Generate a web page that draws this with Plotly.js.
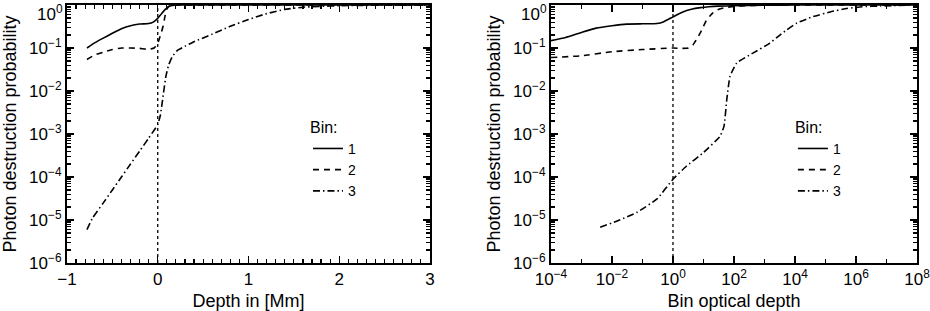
<!DOCTYPE html>
<html>
<head>
<meta charset="utf-8">
<script src="https://cdn.plot.ly/plotly-3.0.1.min.js"></script>
<style>
  body { margin: 0; background: white; }
  #plot { width: 930px; height: 311px; }
</style>
</head>
<body>
<div id="plot"></div>
<script>
// Bin labels and reference positions
const binNames = ['1', '2', '3'];
const surfaceDepth = 0;   // dotted line, left panel (Mm)
const unitTau = 1;        // dotted line, right panel

// Left panel: depth in Mm
const depth1 = [-0.78, -0.7, -0.6, -0.5, -0.4, -0.3, -0.2, -0.1, -0.05, 0, 0.04, 0.08, 0.12, 0.16, 0.22, 0.3, 0.5, 1, 2, 3];
const prob1  = [0.10, 0.13, 0.17, 0.22, 0.28, 0.33, 0.36, 0.37, 0.40, 0.49, 0.62, 0.78, 0.92, 0.97, 1.0, 1.0, 1.0, 1.0, 1.0, 1.0];

const depth2 = [-0.78, -0.7, -0.6, -0.5, -0.4, -0.3, -0.2, -0.1, -0.04, 0, 0.02, 0.04, 0.06, 0.08, 0.1, 0.13, 0.17, 0.25, 0.5, 1, 2, 3];
const prob2  = [0.054, 0.068, 0.08, 0.092, 0.1, 0.1, 0.098, 0.093, 0.1, 0.13, 0.17, 0.23, 0.33, 0.55, 0.8, 0.95, 0.99, 1, 1, 1, 1, 1];

const depth3 = [-0.78, -0.72, -0.6, -0.5, -0.4, -0.3, -0.2, -0.1, 0, 0.03, 0.06, 0.09, 0.12, 0.16, 0.22, 0.3, 0.4, 0.6, 0.8, 1.0, 1.2, 1.4, 1.6, 1.8, 2.0, 2.5, 3];
const prob3  = [6e-6, 1.1e-5, 2.5e-5, 5e-5, 1e-4, 2e-4, 4e-4, 8e-4, 1.66e-3, 2.8e-3, 7.9e-3, 0.022, 0.04, 0.063, 0.089, 0.11, 0.14, 0.21, 0.32, 0.46, 0.63, 0.79, 0.89, 0.93, 0.965, 0.99, 1.0];

// Right panel: bin optical depth
const tau1  = [1e-4, 3e-4, 1e-3, 3e-3, 1e-2, 3e-2, 0.1, 0.3, 0.5, 1, 2, 4, 8, 15, 30, 100, 1e3, 1e4, 1e6, 1e8];
const tprob1 = [0.148, 0.175, 0.23, 0.29, 0.33, 0.36, 0.365, 0.37, 0.41, 0.53, 0.68, 0.8, 0.87, 0.91, 0.94, 0.96, 0.99, 1, 1, 1];

const tau2  = [1e-4, 1e-3, 1e-2, 0.1, 1, 2, 3.2, 4.5, 6.3, 8, 10, 12.6, 16, 20, 32, 50, 100, 316, 1e3, 1e4, 1e6, 1e8];
const tprob2 = [0.06, 0.066, 0.082, 0.092, 0.1, 0.098, 0.1, 0.118, 0.17, 0.23, 0.32, 0.45, 0.55, 0.65, 0.8, 0.87, 0.93, 0.97, 0.99, 1, 1, 1];

const tau3  = [0.0041, 0.018, 0.065, 0.3, 1, 2.8, 10, 35, 47, 58, 74, 123, 417, 1500, 3200, 5200, 11500, 40000, 141000, 500000, 1.6e6, 6.3e6, 1e8];
const tprob3 = [6.8e-6, 1e-5, 1.5e-5, 3.1e-5, 8.9e-5, 1.8e-4, 3.7e-4, 8.9e-4, 1.5e-3, 6.3e-3, 0.022, 0.045, 0.076, 0.13, 0.2, 0.26, 0.38, 0.54, 0.69, 0.83, 0.91, 0.95, 1.0];

// Tick labels (the top one, 10^0, is drawn as an annotation a little lower so it stays on the page)
const probTicks = [1e-6, 1e-5, 1e-4, 1e-3, 1e-2, 1e-1, 1];
const probLabels = ['10<sup>−6</sup>', '10<sup>−5</sup>', '10<sup>−4</sup>', '10<sup>−3</sup>', '10<sup>−2</sup>', '10<sup>−1</sup>', '10<sup>0</sup>'];
const depthTicks = [-1, 0, 1, 2, 3];
const depthLabels = ['−1', '0', '1', '2', '3'];
const tauTicks = [1e-4, 1e-2, 1, 1e2, 1e4, 1e6, 1e8];
const tauLabels = ['10<sup>−4</sup>', '10<sup>−2</sup>', '10<sup>0</sup>', '10<sup>2</sup>', '10<sup>4</sup>', '10<sup>6</sup>', '10<sup>8</sup>'];
const probAxisText = probLabels.map((t, i) => (i === probLabels.length - 1 ? '' : t));

// Minor tick positions: 2..9 per decade on probability axes, every 0.1 Mm, every decade in tau
const probMinor = [];
for (let e = -6; e < 0; e++) {
    for (let m = 2; m <= 9; m++) probMinor.push(m * Math.pow(10, e));
}
const depthMinor = [];
for (let i = -10; i <= 30; i++) {
    if (i % 10 !== 0) depthMinor.push(i / 10);
}
const tauMinor = [];
for (let e = -3; e <= 7; e += 2) tauMinor.push(Math.pow(10, e));

const dashes = ['solid', '6px,5px', '7px,3px,1.5px,3px'];

const lineStyle = (i) => ({ color: 'black', width: 1.6, dash: dashes[i], shape: 'spline', smoothing: 0.4 });

const traces = [
    { x: depth1, y: prob1, xaxis: 'x', yaxis: 'y', legend: 'legend' },
    { x: depth2, y: prob2, xaxis: 'x', yaxis: 'y', legend: 'legend' },
    { x: depth3, y: prob3, xaxis: 'x', yaxis: 'y', legend: 'legend' },
    { x: tau1, y: tprob1, xaxis: 'x2', yaxis: 'y2', legend: 'legend2' },
    { x: tau2, y: tprob2, xaxis: 'x2', yaxis: 'y2', legend: 'legend2' },
    { x: tau3, y: tprob3, xaxis: 'x2', yaxis: 'y2', legend: 'legend2' }
].map((t, k) => Object.assign(t, {
    type: 'scatter',
    mode: 'lines',
    name: binNames[k % 3],
    line: lineStyle(k % 3)
}));

const fontFamily = 'Liberation Sans, Arial, sans-serif';
const titleFont = { family: fontFamily, size: 18, color: 'black' };
const tickFont = { family: fontFamily, size: 17, color: 'black' };

// Shared axis styling, IDL-like frame with inward ticks
const axisBase = {
    showline: true,
    linecolor: 'black',
    linewidth: 2,
    mirror: 'ticks',
    ticks: 'inside',
    ticklen: 7,
    tickwidth: 1.2,
    tickcolor: 'black',
    showgrid: false,
    zeroline: false,
    ticklabeloverflow: 'allow',
    tickfont: tickFont
};

const minorTicks = (vals) => ({
    tickmode: 'array',
    tickvals: vals,
    ticks: 'inside',
    ticklen: 4,
    tickwidth: 1.2,
    tickcolor: 'black',
    showgrid: false
});

const legendBase = {
    bgcolor: 'rgba(0,0,0,0)',
    borderwidth: 0,
    xanchor: 'left',
    yanchor: 'top',
    font: { family: fontFamily, size: 14, color: 'black' },
    title: { text: 'Bin:', side: 'top', font: { family: fontFamily, size: 16, color: 'black' } },
    itemwidth: 30,
    tracegroupgap: 0
};

// top tick label of each probability axis
const topLabel = (xref, yref) => ({
    xref: xref + ' domain', yref: yref,
    x: 0, y: Math.log10(probTicks[probTicks.length - 1]),
    text: probLabels[probLabels.length - 1],
    showarrow: false,
    xanchor: 'right', yanchor: 'top',
    xshift: -2, yshift: 5,
    font: tickFont
});

const layout = {
    width: 930,
    height: 311,
    margin: { l: 67, r: 13, t: 5, b: 48 },
    paper_bgcolor: 'white',
    plot_bgcolor: 'white',
    showlegend: true,
    xaxis: Object.assign({}, axisBase, {
        domain: [0, 0.427],
        range: [-1, 3],
        tickmode: 'array',
        tickvals: depthTicks,
        ticktext: depthLabels,
        minor: minorTicks(depthMinor),
        anchor: 'y',
        title: { text: 'Depth in [Mm]', font: titleFont, standoff: 9 }
    }),
    yaxis: Object.assign({}, axisBase, {
        type: 'log',
        range: [-6, 0],
        tickmode: 'array',
        tickvals: probTicks,
        ticktext: probAxisText,
        minor: minorTicks(probMinor),
        anchor: 'x',
        title: { text: 'Photon destruction probability', font: titleFont, standoff: 8 }
    }),
    xaxis2: Object.assign({}, axisBase, {
        type: 'log',
        domain: [0.5694, 1],
        range: [-4, 8],
        tickmode: 'array',
        tickvals: tauTicks,
        ticktext: tauLabels,
        minor: minorTicks(tauMinor),
        anchor: 'y2',
        title: { text: 'Bin optical depth', font: titleFont, standoff: 9 }
    }),
    yaxis2: Object.assign({}, axisBase, {
        type: 'log',
        range: [-6, 0],
        tickmode: 'array',
        tickvals: probTicks,
        ticktext: probAxisText,
        minor: minorTicks(probMinor),
        anchor: 'x2',
        title: { text: 'Photon destruction probability', font: titleFont, standoff: 8 }
    }),
    legend: Object.assign({}, legendBase, { x: 0.2835, y: 0.585 }),
    legend2: Object.assign({}, legendBase, { x: 0.854, y: 0.585 }),
    annotations: [topLabel('x', 'y'), topLabel('x2', 'y2')],
    shapes: [
        { type: 'line', xref: 'x', yref: 'y domain', x0: surfaceDepth, x1: surfaceDepth, y0: 0, y1: 1,
          line: { color: 'black', width: 1.3, dash: 'dot' } },
        { type: 'line', xref: 'x2', yref: 'y2 domain', x0: unitTau, x1: unitTau, y0: 0, y1: 1,
          line: { color: 'black', width: 1.3, dash: 'dot' } }
    ]
};

const config = { displayModeBar: false, staticPlot: true };

Plotly.newPlot('plot', traces, layout, config);
</script>
</body>
</html>
